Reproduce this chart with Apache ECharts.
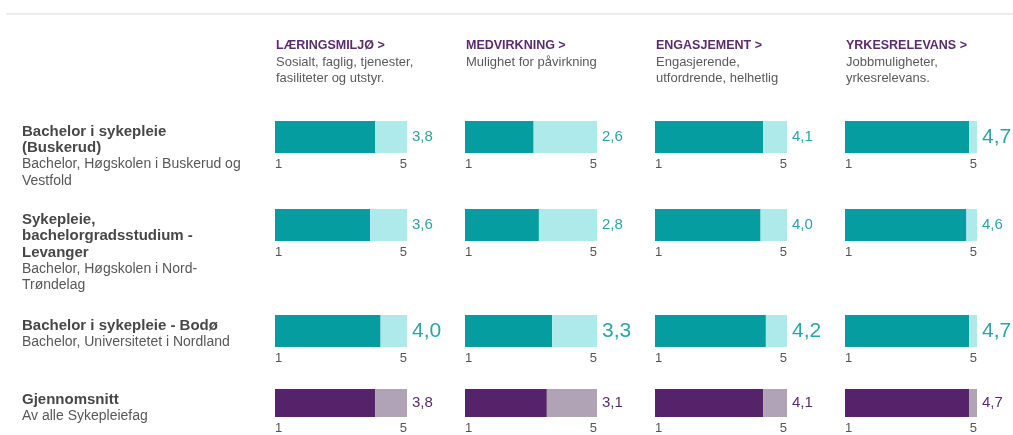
<!DOCTYPE html>
<html>
<head>
<meta charset="utf-8">
<title>Studiebarometeret</title>
<script src="https://cdn.jsdelivr.net/npm/echarts@6/dist/echarts.min.js"></script>
<style>
  html, body { margin: 0; padding: 0; background: #fff; }
  #chart { width: 1013px; height: 435px; }
</style>
</head>
<body>
<div id="chart"></div>
<script>
// Indikatorer (kolonner)
var categories = ['LÆRINGSMILJØ >', 'MEDVIRKNING >', 'ENGASJEMENT >', 'YRKESRELEVANS >'];
var categoryNotes = [
  'Sosialt, faglig, tjenester,\nfasiliteter og utstyr.',
  'Mulighet for påvirkning',
  'Engasjerende,\nutfordrende, helhetlig',
  'Jobbmuligheter,\nyrkesrelevans.'
];

// Studieprogram (rader)
var programs = ['Bachelor i sykepleie\n(Buskerud)', 'Sykepleie,\nbachelorgradsstudium -\nLevanger', 'Bachelor i sykepleie - Bodø', 'Gjennomsnitt'];
var programNotes = ['Bachelor, Høgskolen i Buskerud og\nVestfold', 'Bachelor, Høgskolen i Nord-\nTrøndelag', 'Bachelor, Universitetet i Nordland', 'Av alle Sykepleiefag'];

// Verdier per rad, en verdi per indikator
var buskerud = [3.8, 2.6, 4.1, 4.7];
var levanger = [3.6, 2.8, 4.0, 4.6];
var bodo = [4.0, 3.3, 4.2, 4.7];
var average = [3.8, 3.1, 4.1, 4.7];

var tickLabels = [1, 5];
var scaleMax = 5;

var rows = [buskerud, levanger, bodo, average];

// layout
var colLeft = 275, colStep = 190, barW = 132, barH = 32;
var rowTops = [121, 209, 315, 389];
var FONT = 'Liberation Sans, Arial, sans-serif';

var teal = { dark: '#069da0', light: '#aeeaea', text: '#2ea3a5' };
var purple = { dark: '#55236a', light: '#b0a3b6', text: '#5a2c70' };

var grids = [], xAxes = [], yAxes = [], series = [], graphics = [];

function fmt(v) { return v.toFixed(1).replace('.', ','); }

rows.forEach(function (vals, r) {
  var isAvg = r === rows.length - 1;
  var pal = isAvg ? purple : teal;
  vals.forEach(function (v, c) {
    var i = grids.length;
    // største verdi blant programmene i kolonnen vises større
    var best = Math.max(buskerud[c], levanger[c], bodo[c]);
    var big = !isAvg && v === best;

    grids.push({ left: colLeft + colStep * c, top: rowTops[r], width: barW, height: barH });
    xAxes.push({ gridIndex: i, type: 'value', min: 0, max: scaleMax, show: false });
    xAxes.push({
      gridIndex: i, type: 'value', position: 'bottom',
      min: tickLabels[0], max: tickLabels[1], interval: tickLabels[1] - tickLabels[0],
      axisLine: { show: false }, axisTick: { show: false }, splitLine: { show: false },
      axisLabel: { color: '#555', fontSize: 13, margin: 5, alignMinLabel: 'left', alignMaxLabel: 'right' }
    });
    yAxes.push({ gridIndex: i, type: 'category', data: [''], show: false });

    series.push({
      type: 'bar', xAxisIndex: i * 2, yAxisIndex: i, stack: 's' + i,
      barWidth: barH, silent: true,
      itemStyle: { color: pal.dark },
      data: [v]
    });
    series.push({
      type: 'bar', xAxisIndex: i * 2, yAxisIndex: i, stack: 's' + i,
      barWidth: barH, silent: true,
      itemStyle: { color: pal.light },
      label: {
        show: true, position: 'right', distance: 5,
        color: pal.text, fontSize: big ? 21 : 15,
        formatter: function () { return fmt(v); }
      },
      data: [+(scaleMax - v).toFixed(2)]
    });
  });

  graphics.push({
    type: 'text', left: 22, top: rowTops[r] + 3,
    style: {
      text: programs[r].split('\n').map(function (s) { return '{b|' + s + '}'; }).join('\n') + '\n' +
            programNotes[r].split('\n').map(function (s) { return '{n|' + s + '}'; }).join('\n'),
      rich: {
        b: { fontSize: 15, fontWeight: 'bold', fill: '#474747', lineHeight: 16.5, fontFamily: FONT },
        n: { fontSize: 14, fill: '#585858', lineHeight: 16.5, fontFamily: FONT }
      }
    }
  });
});

categories.forEach(function (name, c) {
  graphics.push({
    type: 'text', left: colLeft + 1 + colStep * c, top: 39,
    style: { text: name, fill: '#5a2c6e', font: 'bold 12.5px ' + FONT }
  });
  graphics.push({
    type: 'text', left: colLeft + 1 + colStep * c, top: 54,
    style: { text: categoryNotes[c], fill: '#5a5a5a', fontSize: 13, lineHeight: 16, fontFamily: FONT }
  });
});

// skillelinje øverst
graphics.push({ type: 'rect', left: 6, top: 13, shape: { width: 1007, height: 2 }, style: { fill: '#eeeeee' } });

var chart = echarts.init(document.getElementById('chart'));
chart.setOption({
  animation: false,
  textStyle: { fontFamily: FONT },
  grid: grids,
  xAxis: xAxes,
  yAxis: yAxes,
  series: series,
  graphic: graphics
});
</script>
</body>
</html>
